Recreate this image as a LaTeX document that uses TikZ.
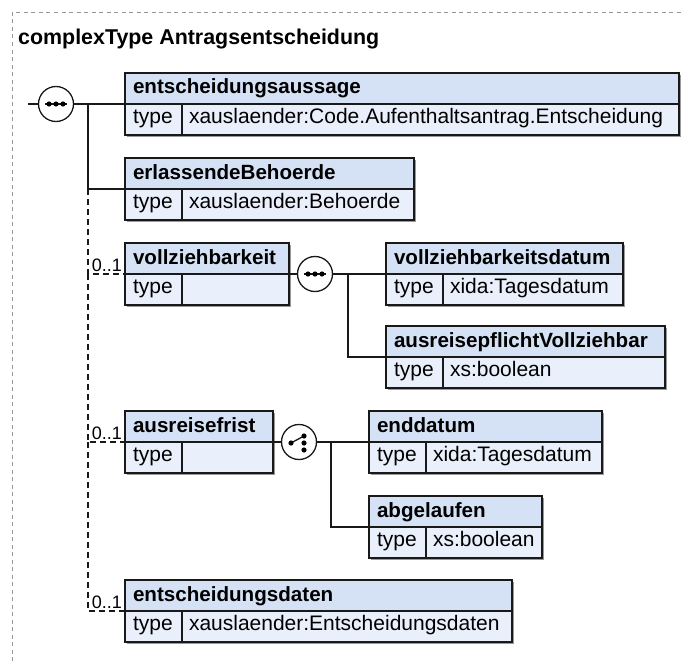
\documentclass[tikz,border=0pt]{standalone}
\usepackage{fontspec}
\setmainfont{Liberation Sans}
\usetikzlibrary{shadows}
\definecolor{hdrblue}{RGB}{213,225,245}
\definecolor{rowblue}{RGB}{234,240,251}
\definecolor{framegray}{RGB}{150,150,150}
\tikzset{
  cell/.style={draw=black!90, line width=1.3pt, outer sep=0pt, inner ysep=0pt, align=left,
    general shadow={fill=black!40, shadow xshift=2pt, shadow yshift=-2pt}},
  hdr/.style={cell, fill=hdrblue, anchor=south west, inner xsep=8pt,
    text height=21pt, text depth=10pt, font=\fontsize{20.6}{24}\selectfont\bfseries},
  typ/.style={cell, fill=rowblue, anchor=north west, inner xsep=8pt, text width=41pt,
    text height=19pt, text depth=12pt, font=\fontsize{21}{24}\selectfont},
  val/.style={typ, inner xsep=7pt},
  conn/.style={draw=black!90, line width=1.3pt},
  opt/.style={conn, dash pattern=on 6pt off 4pt},
  card/.style={anchor=base east, inner sep=0pt, font=\fontsize{18}{20}\selectfont},
  grp/.style={circle, draw=black!90, fill=white, line width=1.3pt, minimum size=35pt,
    inner sep=0pt, outer sep=0pt},
  dot/.style={fill=black}
}
\begin{document}
\begin{tikzpicture}[x=1pt,y=-1pt]
    \useasboundingbox (0,0) rectangle (683,661);

    % Rahmen
    \draw[framegray, line width=1pt, dash pattern=on 4pt off 3.5pt] (12,661) |- (683,13);

    % Titel
    \node[anchor=base west, inner sep=0pt, font=\fontsize{21.4}{24}\selectfont\bfseries]
      (title) at (18,44.5) {complexType Antragsentscheidung};

    % entscheidungsaussage
    \node[hdr, text width=538pt] (ea) at (125,104) {entscheidungsaussage};
    \node[typ] (eat) at (ea.south west) {type};
    \node[val, text width=483pt] (eav) at (eat.north east) {xauslaender:Code.Aufenthaltsantrag.Entscheidung};

    % erlassendeBehoerde
    \node[hdr, text width=273pt] (eb) at (125,189) {erlassendeBehoerde};
    \node[typ] (ebt) at (eb.south west) {type};
    \node[val, text width=218pt] (ebv) at (ebt.north east) {xauslaender:Behoerde};

    % vollziehbarkeit
    \node[hdr, text width=148pt] (vz) at (125,274) {vollziehbarkeit};
    \node[typ] (vzt) at (vz.south west) {type};
    \node[val, text width=93pt] (vzv) at (vzt.north east) {};

    % vollziehbarkeitsdatum
    \node[hdr, text width=221pt] (vd) at (386,274) {vollziehbarkeitsdatum};
    \node[typ] (vdt) at (vd.south west) {type};
    \node[val, text width=166pt] (vdv) at (vdt.north east) {xida:Tagesdatum};

    % ausreisepflichtVollziehbar
    \node[hdr, text width=263pt] (av) at (386,357) {ausreisepflichtVollziehbar};
    \node[typ] (avt) at (av.south west) {type};
    \node[val, text width=208pt] (avv) at (avt.north east) {xs:boolean};

    % ausreisefrist
    \node[hdr, text width=132pt] (af) at (125,442) {ausreisefrist};
    \node[typ] (aft) at (af.south west) {type};
    \node[val, text width=77pt] (afv) at (aft.north east) {};

    % enddatum
    \node[hdr, text width=217pt] (ed) at (369,442) {enddatum};
    \node[typ] (edt) at (ed.south west) {type};
    \node[val, text width=162pt] (edv) at (edt.north east) {xida:Tagesdatum};

    % abgelaufen
    \node[hdr, text width=157pt] (ab) at (369,527) {abgelaufen};
    \node[typ] (abt) at (ab.south west) {type};
    \node[val, text width=102pt] (abv) at (abt.north east) {xs:boolean};

    % entscheidungsdaten
    \node[hdr, text width=371pt] (ek) at (125,611) {entscheidungsdaten};
    \node[typ] (ekt) at (ek.south west) {type};
    \node[val, text width=316pt] (ekv) at (ekt.north east) {xauslaender:Entscheidungsdaten};

    % Hauptsequenz
    \coordinate (in) at (28,104);
    \coordinate (t0) at (88,104);
    \node[grp] (s0) at (56,104) {};
    \draw[conn] (in) -- (s0);
    \draw[conn] (s0) -- (ea.south west);
    \draw[conn] (t0) |- (eb.south west);
    \draw[opt] (eb.south west -| t0) |- (vz.south west);
    \draw[opt] (vz.south west -| t0) |- (af.south west);
    \draw[opt] (af.south west -| t0) |- (ek.south west);
    \node[card] (m1) at (122,271) {0..1};
    \node[card] (m2) at (122,439) {0..1};
    \node[card] (m3) at (122,608) {0..1};

    % Sequenz vollziehbarkeit
    \coordinate (t1) at (348,274);
    \node[grp] (s1) at (315,274) {};
    \draw[conn] (vz.south east) -- (s1);
    \draw[conn] (s1) -- (vd.south west);
    \draw[conn] (t1) |- (av.south west);

    % Auswahl ausreisefrist
    \coordinate (t2) at (331,442);
    \node[grp] (c1) at (299,442) {};
    \draw[conn] (af.south east) -- (c1);
    \draw[conn] (c1) -- (ed.south west);
    \draw[conn] (t2) |- (ab.south west);

    % Symbole
    \foreach \s in {s0,s1} {
      \draw[conn] ([xshift=-11pt]\s.center) -- ([xshift=11pt]\s.center);
      \foreach \d in {-7,0,7}
        \fill[dot] ([xshift=\d pt]\s.center) circle (2.6pt);
    }
    \draw[conn] ([xshift=-8pt,yshift=-1pt]c1.center) -- ([xshift=5pt,yshift=6pt]c1.center);
    \fill[dot] ([xshift=-8pt,yshift=-1pt]c1.center) circle (2.6pt);
    \foreach \d in {6,-1,-8}
      \fill[dot] ([xshift=5pt,yshift=\d pt]c1.center) circle (2.6pt);
\end{tikzpicture}
\end{document}
